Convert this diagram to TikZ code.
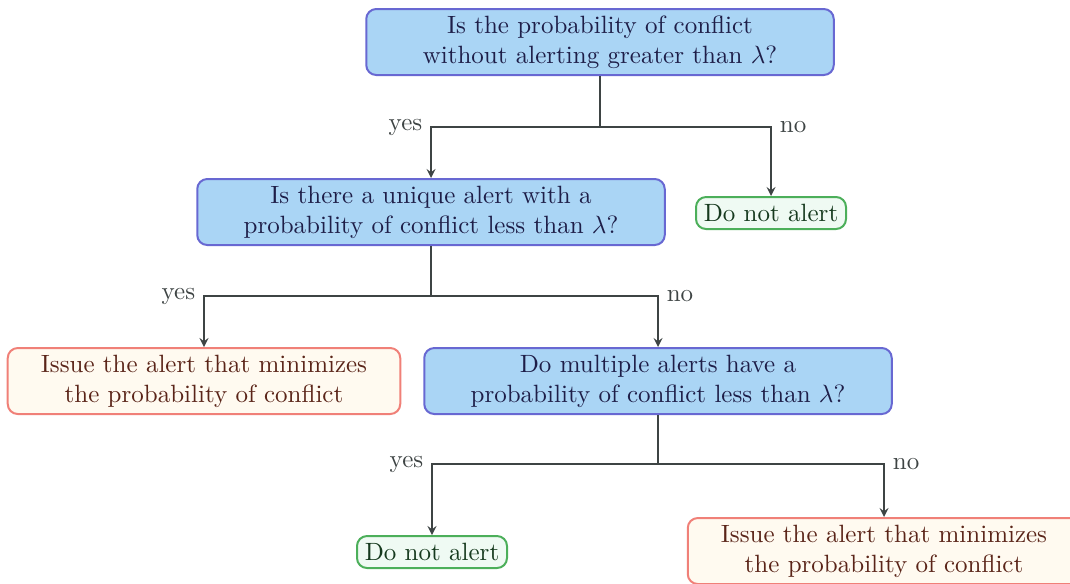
\documentclass[tikz,border=0pt]{standalone}
\usepackage{amsmath}
\usetikzlibrary{positioning}
\definecolor{qfill}{HTML}{AAD5F5}
\definecolor{qline}{HTML}{6868D2}
\definecolor{qtext}{HTML}{1E1E48}
\definecolor{dfill}{HTML}{EFFAF3}
\definecolor{dline}{HTML}{4CAF5A}
\definecolor{dtext}{HTML}{163A1E}
\definecolor{rfill}{HTML}{FFFAF0}
\definecolor{rline}{HTML}{F08078}
\definecolor{rtext}{HTML}{5A2418}
\definecolor{wire}{HTML}{3E4444}
\tikzset{
    question/.style={draw=qline, fill=qfill, text=qtext, line width=0.8pt, rounded corners=4pt,
      text width=180pt, align=center, minimum width=187pt, minimum height=26.4pt, inner sep=2pt},
    noalert/.style={draw=dline, fill=dfill, text=dtext, line width=0.8pt, rounded corners=4pt,
      minimum width=60pt, minimum height=12.8pt, inner sep=1pt},
    issue/.style={draw=rline, fill=rfill, text=rtext, line width=0.8pt, rounded corners=4pt,
      text width=150pt, align=center, minimum width=157pt, minimum height=26.4pt, inner sep=2pt},
    wire/.style={draw=wire, line width=0.6pt},
    answer/.style={text=wire},
  }
\begin{document}
\begin{tikzpicture}[x=0.4pt,y=-0.4pt,>=stealth]
                                    \useasboundingbox (0,0) rectangle (1070,583);
                                    %boites
                                    \node[question] (q1) at (600,42) {Is the probability of conflict\\without alerting greater than $\lambda$?};
                                    \node[question] (q2) at (431,212) {Is there a unique alert with a\\probability of conflict less than $\lambda$?};
                                    \node[noalert] (d1) at (771,213) {Do not alert};
                                    \node[issue] (r1) at (204,381) {Issue the alert that minimizes\\the probability of conflict};
                                    \node[question] (q3) at (658,381) {Do multiple alerts have a\\probability of conflict less than $\lambda$?};
                                    \node[noalert] (d2) at (432,552) {Do not alert};
                                    \node[issue] (r2) at (884,551) {Issue the alert that minimizes\\the probability of conflict};
                                    %embranchements
                                    \coordinate (j1) at (600,127);
                                    \coordinate (j2) at (431,296);
                                    \coordinate (j3) at (658,464);
                                    \coordinate[label={[answer]left:yes}](y1) at (q2.north |- j1);
                                    \coordinate[label={[answer]right:no}](n1) at (d1.north |- j1);
                                    \coordinate[label={[answer]left:yes}](y2) at (r1.north |- j2);
                                    \coordinate[label={[answer]right:no}](n2) at (q3.north |- j2);
                                    \coordinate[label={[answer]left:yes}](y3) at (d2.north |- j3);
                                    \coordinate[label={[answer]right:no}](n3) at (r2.north |- j3);
                                    %fleches
                                    \draw [wire] (q1.south) -- (j1);
                                    \draw [wire,->] (j1) -- (y1) -- (q2.north);
                                    \draw [wire,->] (j1) -- (n1) -- (d1.north);
                                    \draw [wire] (q2.south) -- (j2);
                                    \draw [wire,->] (j2) -- (y2) -- (r1.north);
                                    \draw [wire,->] (j2) -- (n2) -- (q3.north);
                                    \draw [wire] (q3.south) -- (j3);
                                    \draw [wire,->] (j3) -- (y3) -- (d2.north);
                                    \draw [wire,->] (j3) -- (n3) -- (r2.north);
\end{tikzpicture}
\end{document}
